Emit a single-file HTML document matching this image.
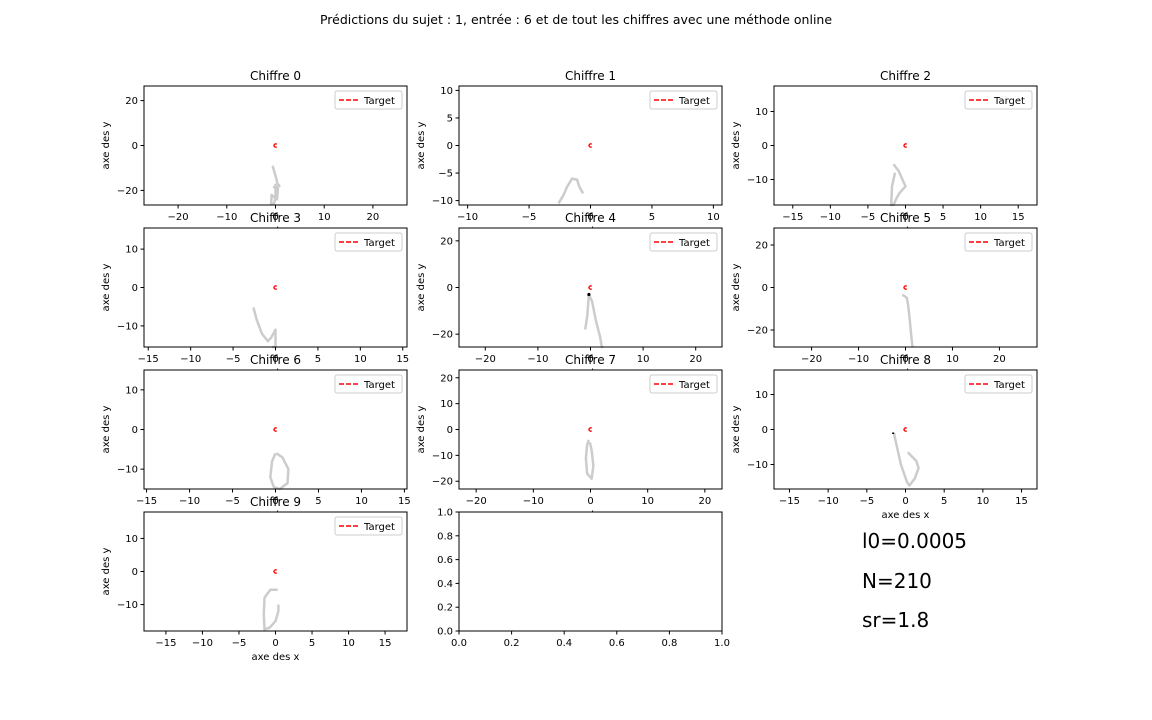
<!DOCTYPE html>
<html><head><meta charset="utf-8"><style>
html,body{margin:0;padding:0;background:#fff}
svg{display:block;font-family:"DejaVu Sans","Liberation Sans",sans-serif}
</style></head><body>
<svg id="fig" width="1152" height="720" viewBox="0 0 1152 720">
<text x="576" y="24" text-anchor="middle" font-size="12.5">Prédictions du sujet : 1, entrée : 6 et de tout les chiffres avec une méthode online</text>
<text x="862" y="548" font-size="20">l0=0.0005</text>
<text x="862" y="588" font-size="20">N=210</text>
<text x="862" y="627" font-size="20">sr=1.8</text>
</svg>
<script>
const NS="http://www.w3.org/2000/svg";
const svg=document.getElementById('fig');
const panelTitles=["Chiffre 0","Chiffre 1","Chiffre 2","Chiffre 3","Chiffre 4","Chiffre 5","Chiffre 6","Chiffre 7","Chiffre 8","Chiffre 9",""];
const xLimits=[27,10.7,17.5,15.5,25,28,15.3,23,17,18,1];
const yLimits=[26.5,10.8,17.5,15.5,25.5,28,15,23,17,18,1];
const xTickVals=[[-20,-10,0,10,20],[-10,-5,0,5,10],[-15,-10,-5,0,5,10,15],[-15,-10,-5,0,5,10,15],[-20,-10,0,10,20],[-20,-10,0,10,20],[-15,-10,-5,0,5,10,15],[-20,-10,0,10,20],[-15,-10,-5,0,5,10,15],[-15,-10,-5,0,5,10,15],[0,0.2,0.4,0.6,0.8,1.0]];
const yTickVals=[[-20,0,20],[-10,-5,0,5,10],[-10,0,10],[-10,0,10],[-20,0,20],[-20,0,20],[-10,0,10],[-20,-10,0,10,20],[-10,0,10],[-10,0,10],[0,0.2,0.4,0.6,0.8,1.0]];
const traceX=[
[-0.6,-0.2,0.2,0.4,0.8,0,-0.3,0.5,0.3,-0.8,-0.9,-0.3,0,0],
[-2.6,-2.2,-1.9,-1.5,-1.1,-0.9,-0.6],
[-1.6,-0.9,-0.3,0,-0.8,-1.2,-1.6,-1.9,-1.8,-1.4],
[-2.6,-2.2,-1.6,-0.9,-0.5,0,0,-0.4],
[-1,-0.6,-0.3,0.3,1,1.8,2.2],
[-0.7,-0.2,0.3,0.6,0.9,1.2,1.5],
[0,-0.4,-0.6,-0.2,0.5,1.4,1.5,0.8,0.1],
[-0.3,-0.6,-0.8,-0.6,0.2,0.5,0.2,-0.1],
[-1.5,-1.2,-0.6,0.2,0.5,1.2,1.7,1.4,0.3],
[0.4,0.4,0,-0.8,-1.5,-1.6,-1.5,-1.2,-0.7,0,0.3],
[]];
const traceY=[
[-9,-12,-15,-17,-18,-19,-18.5,-19,-24,-22,-26,-26,-23,-17],
[-10.5,-9,-7.5,-6,-6.2,-7.5,-8.7],
[-5.5,-7.5,-10.5,-12,-14,-15.5,-17.5,-17.5,-12,-8],
[-5.2,-8.5,-12,-14,-13,-11,-15.5,-15.5],
[-18,-12,-3,-6,-14,-21,-26],
[-3.5,-4,-5,-9,-15,-22,-28],
[-6,-8,-12,-14.5,-15,-13.5,-10,-7,-6],
[-4,-6,-11,-17,-19,-14,-8,-5],
[-1,-4,-10,-15,-16,-14,-11,-9,-6.5],
[-10,-12,-15,-17,-17.5,-13,-8,-7,-5.5,-5.5,-5.5],
[]];
const hasTarget=[1,1,1,1,1,1,1,1,1,1,0];
const colX=[144,459,774], rowY=[86,228,370,512], W=263, H=119;
function el(tag,attrs,parent){const e=document.createElementNS(NS,tag);for(const k in attrs)e.setAttribute(k,attrs[k]);(parent||svg).appendChild(e);return e;}
function fmt(v,dec){let s=dec?v.toFixed(1):String(v);return s.replace('-','\u2212');}
for(let i=0;i<panelTitles.length;i++){
  const x0=colX[i%3], y0=rowY[Math.floor(i/3)];
  const empty=i===10;
  const xmin=empty?0:-xLimits[i], xmax=xLimits[i], ymin=empty?0:-yLimits[i], ymax=yLimits[i];
  const sx=v=>x0+(v-xmin)/(xmax-xmin)*W;
  const sy=v=>y0+H-(v-ymin)/(ymax-ymin)*H;
  const g=el('g',{});
  
  
  el('rect',{x:x0,y:y0,width:W,height:H,fill:'#fff'},g);
  if(traceX[i].length){
    const pts=traceX[i].map((v,k)=>sx(v).toFixed(1)+','+sy(traceY[i][k]).toFixed(1)).join(' ');
    const p=el('polyline',{points:pts,fill:'none',stroke:'#cccccc','stroke-width':2.5,'stroke-linejoin':'round'},g);
    
    
  }
  if(hasTarget[i]){
    const t=el('path',{d:`M${sx(0)+1.2},${sy(0)-1.2} A1.6,1.6 0 1 0 ${sx(0)+1.2},${sy(0)+1.2}`,fill:'none',stroke:'red','stroke-width':1.3},g);
    
    
  }
  if(i===4){el('circle',{cx:sx(-0.3),cy:sy(-3),r:1.6,fill:'#000'},g);}
  if(i===8){el('rect',{x:sx(-1.6)-1,y:sy(-1)-0.5,width:2,height:1.5,fill:'#000'},g);}
  el('rect',{x:x0,y:y0,width:W,height:H,fill:'none',stroke:'#000','stroke-width':1},g);
  xTickVals[i].forEach(v=>{const X=sx(v);el('line',{x1:X,x2:X,y1:y0+H,y2:y0+H+3.5,stroke:'#000'},g);
    const t=el('text',{x:X,y:y0+H+15,'text-anchor':'middle','font-size':10},g);t.textContent=fmt(v,empty);
    });
  yTickVals[i].forEach(v=>{const Y=sy(v);el('line',{x1:x0-3.5,x2:x0,y1:Y,y2:Y,stroke:'#000'},g);
    const t=el('text',{x:x0-6,y:Y+3.5,'text-anchor':'end','font-size':10},g);t.textContent=fmt(v,empty);
    });
  if(!empty){
    const xl=el('text',{x:x0+W/2,y:y0+H+29,'text-anchor':'middle','font-size':10},g);xl.textContent='axe des x';
    
    const yl=el('text',{x:0,y:0,'text-anchor':'middle','font-size':10,transform:`translate(${x0-35},${y0+H/2}) rotate(-90)`},g);yl.textContent='axe des y';
    
    const tt=el('text',{x:x0+W/2,y:y0-6,'text-anchor':'middle','font-size':12},g);tt.textContent=panelTitles[i];
    
    const lg=el('g',{},g);
    
    
    el('rect',{x:x0+W-72,y:y0+5,width:67,height:18,rx:2,fill:'#fff',stroke:'#ccc'},lg);
    el('line',{x1:x0+W-68,x2:x0+W-48,y1:y0+14,y2:y0+14,stroke:'red','stroke-width':1.5,'stroke-dasharray':'5,2'},lg);
    const lt=el('text',{x:x0+W-43,y:y0+18,'font-size':10},lg);lt.textContent='Target';
    
  }
}
</script>
</body></html>
